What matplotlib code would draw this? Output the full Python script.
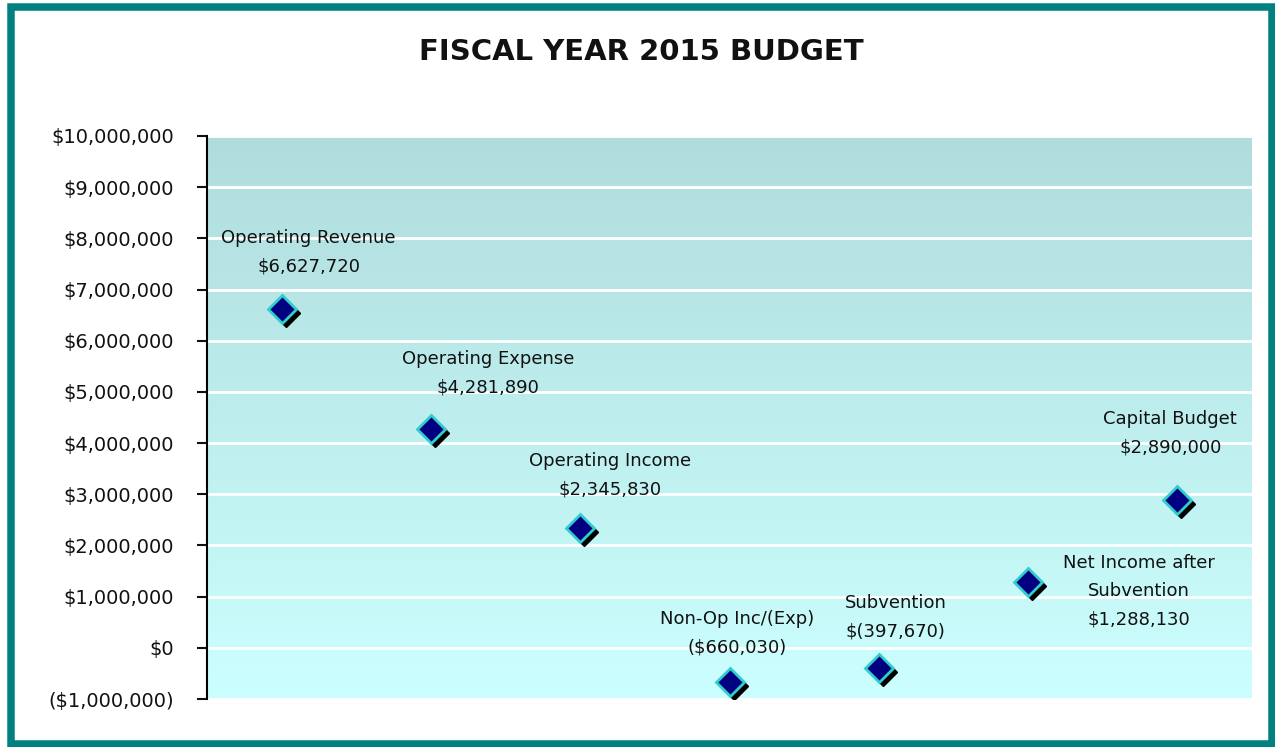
import numpy as np
import matplotlib.pyplot as plt
import matplotlib.transforms as mtransforms
from matplotlib.patches import Rectangle
from matplotlib.ticker import FuncFormatter, MultipleLocator

# budget items and values
categories = ["Operating Revenue", "Operating Expense", "Operating Income",
              "Non-Op Inc/(Exp)", "Subvention", "Net Income after\nSubvention",
              "Capital Budget"]
values = [6627720, 4281890, 2345830, -660030, -397670, 1288130, 2890000]
value_labels = ["$6,627,720", "$4,281,890", "$2,345,830", "($660,030)",
                "$(397,670)", "$1,288,130", "$2,890,000"]

# label offsets from the point (pixels), text anchored at bottom centre
offsets = [(27, 33), (57, 32), (30, 29), (8, 25), (17, 28), (111, -47), (-7, 43)]

fig = plt.figure(figsize=(12.75, 7.47), dpi=100)
fig.patch.set_facecolor("white")

# teal frame round the whole chart
fig.patches.append(Rectangle((10.5 / 1275, 3.5 / 747), 1261 / 1275, 737 / 747,
                             transform=fig.transFigure, fill=False,
                             edgecolor="#008080", linewidth=5.4, zorder=0))

ax = fig.add_axes([207 / 1275, 1 - 699 / 747, 1045 / 1275, 563 / 747])
x = np.arange(len(categories))
ax.set_xlim(-0.5, len(categories) - 0.5)
ax.set_ylim(-1000000, 10000000)

# gradient background
grad = np.linspace(0, 1, 256).reshape(-1, 1)
top = np.array([0.69, 0.863, 0.863])
bottom = np.array([0.8, 1.0, 1.0])
img = top + (bottom - top) * grad[:, :, None]
ax.imshow(img, extent=[0, 1, 0, 1], transform=ax.transAxes, aspect="auto",
          zorder=0, origin="upper")

ax.yaxis.set_major_locator(MultipleLocator(1000000))
ax.grid(axis="y", color="white", linewidth=2, zorder=1)
ax.set_axisbelow(True)


def money(v, pos):
    if v < 0:
        return "(${:,.0f})".format(-v)
    return "${:,.0f}".format(v)


ax.yaxis.set_major_formatter(FuncFormatter(money))
ax.tick_params(axis="y", labelsize=14, length=7, width=1.5, colors="#111111", pad=17)
ax.tick_params(axis="x", bottom=False, labelbottom=False)
for s in ["top", "right", "bottom"]:
    ax.spines[s].set_visible(False)
ax.spines["left"].set_linewidth(1.5)

# shadow then markers
shadow = mtransforms.offset_copy(ax.transData, fig=fig, x=4, y=-4, units="dots")
ax.plot(x, values, "D", color="black", markersize=14, transform=shadow, zorder=3)
ax.plot(x, values, "D", markerfacecolor="#000080", markeredgecolor="#33cccc",
        markeredgewidth=2, markersize=14, zorder=4)

for xi, v, name, lab, (dx, dy) in zip(x, values, categories, value_labels, offsets):
    ax.annotate(name + "\n" + lab, (xi, v), xytext=(dx, dy), textcoords="offset pixels",
                ha="center", va="bottom", fontsize=13, color="#111111",
                linespacing=1.75, zorder=5)

fig.text(641 / 1275, 1 - 52 / 747, "FISCAL YEAR 2015 BUDGET", ha="center",
         va="center", fontsize=21, fontweight="bold", color="#111111")

fig.savefig("out.png", dpi=100)
